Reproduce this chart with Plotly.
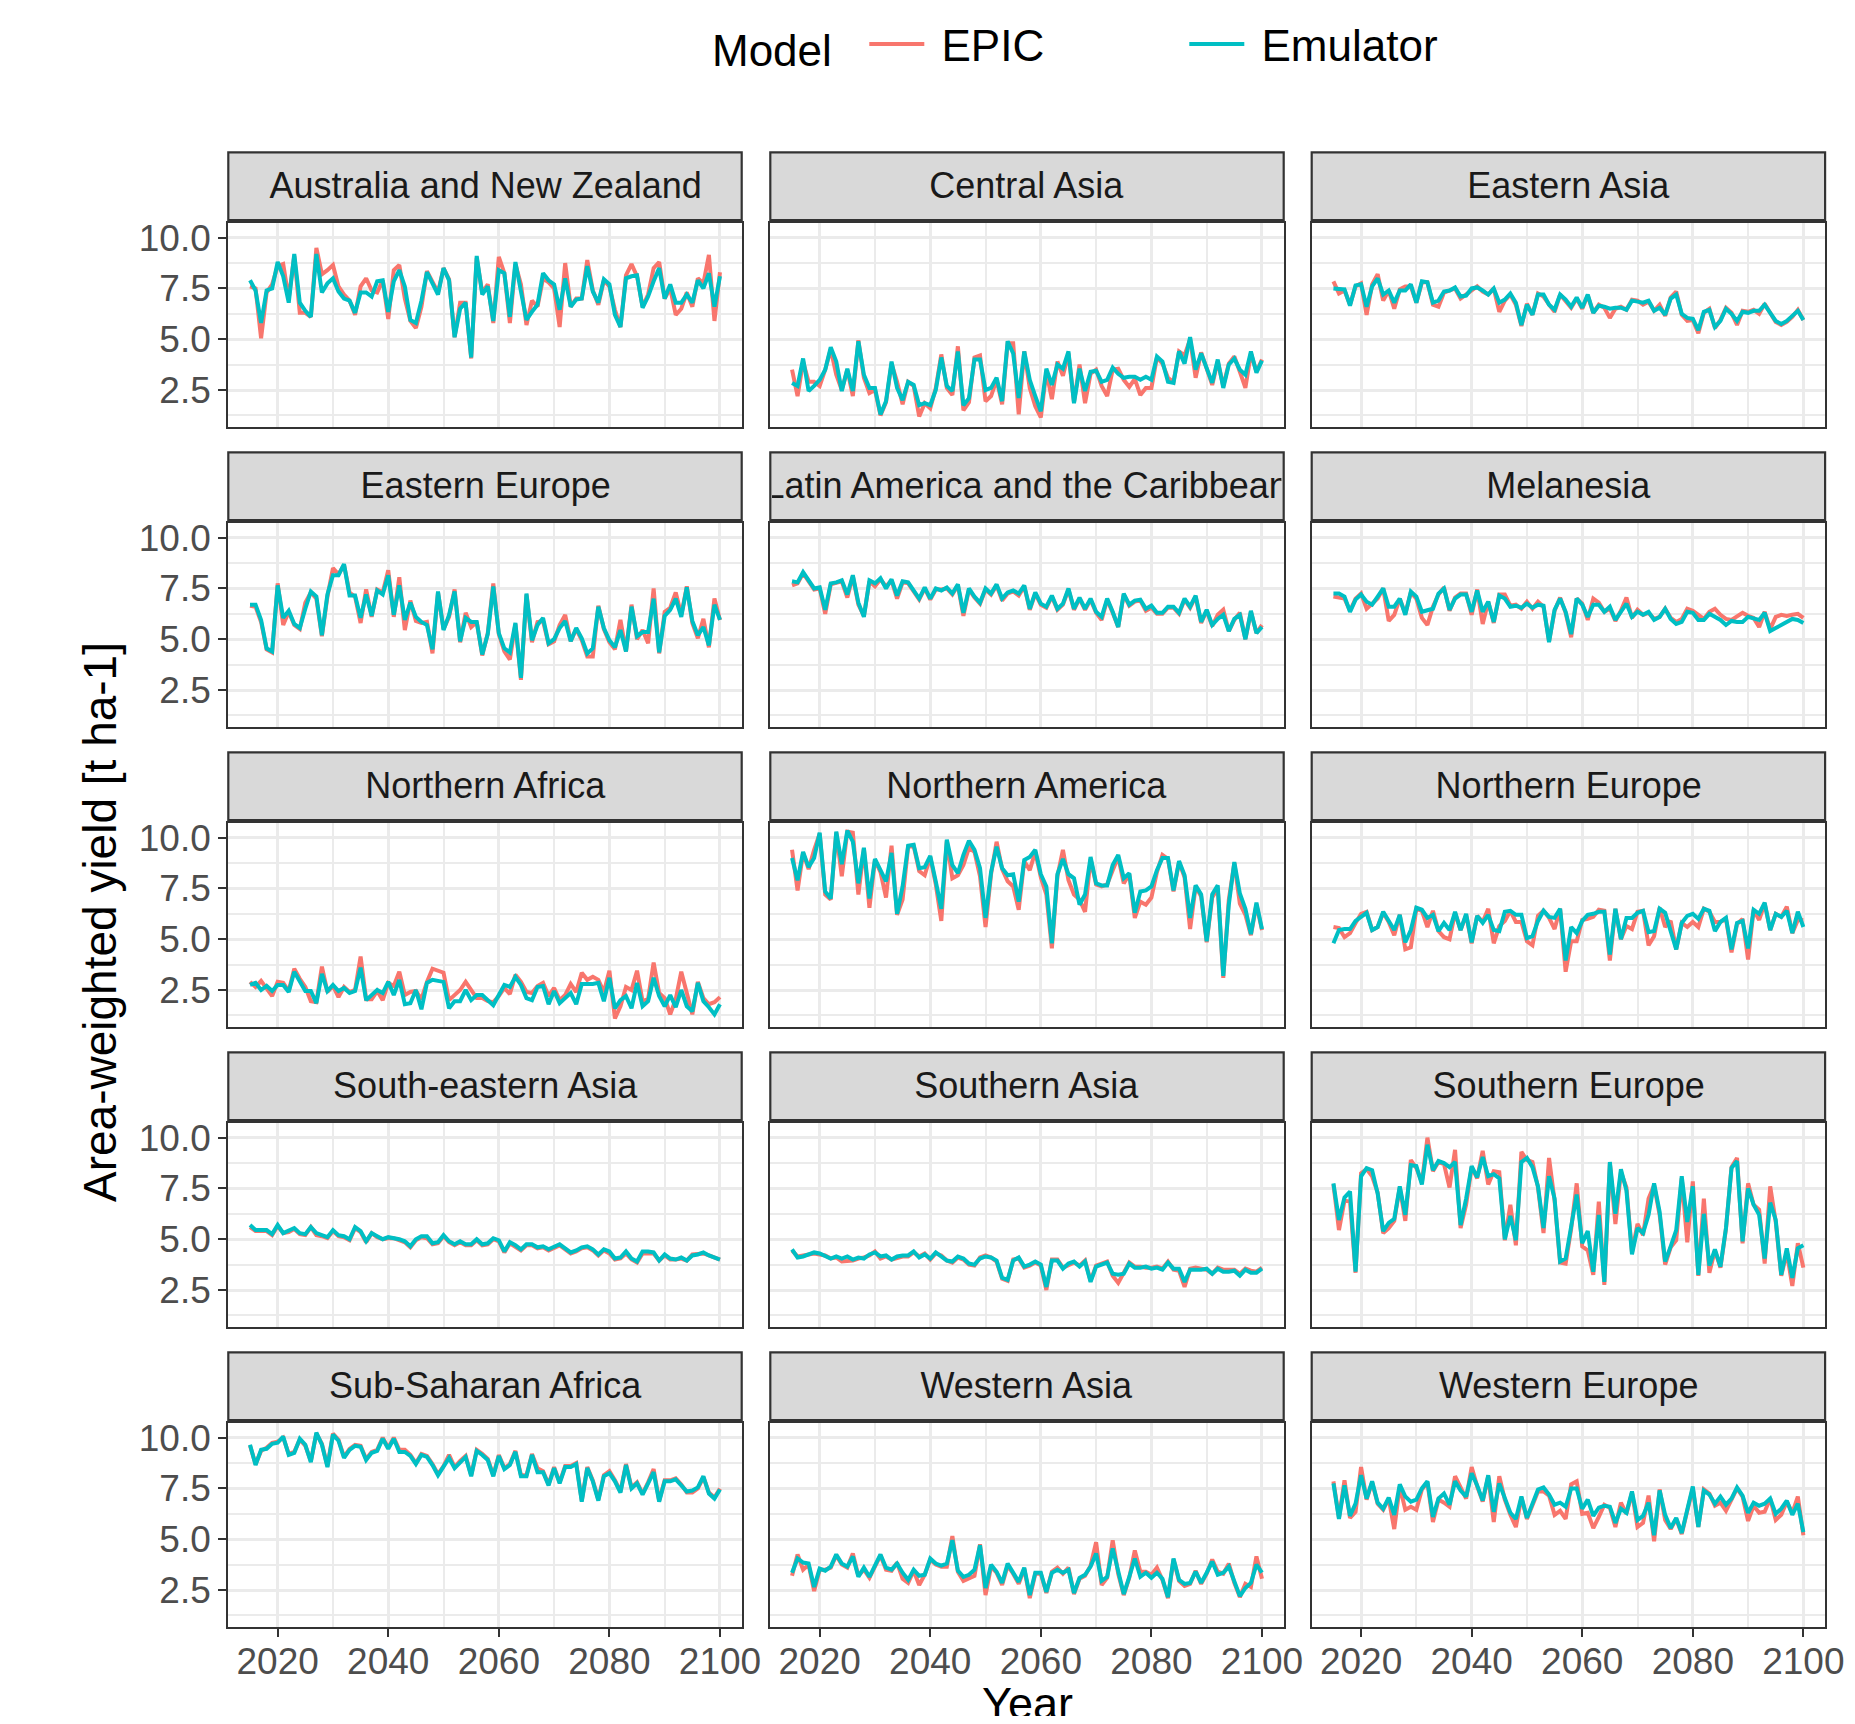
import plotly.graph_objects as go

# ---------------- data ----------------
regions = ["Australia and New Zealand", "Central Asia", "Eastern Asia",
           "Eastern Europe", "Latin America and the Caribbean", "Melanesia",
           "Northern Africa", "Northern America", "Northern Europe",
           "South-eastern Asia", "Southern Asia", "Southern Europe",
           "Sub-Saharan Africa", "Western Asia", "Western Europe"]

x_tick_vals = [2020, 2040, 2060, 2080, 2100]
x_tick_text = ["2020", "2040", "2060", "2080", "2100"]
y_tick_vals = [2.5, 5.0, 7.5, 10.0]
y_tick_text = ["2.5", "5.0", "7.5", "10.0"]

emu_aus = [7.9, 7.4, 5.8, 7.4, 7.5,
           8.8, 8.1, 6.8, 9.2, 6.8, 6.4, 6.1, 9.2, 7.3, 7.75,
           8.0, 7.35, 7.0, 6.9, 6.3, 7.3, 7.3, 7.1, 7.85, 7.9,
           6.35, 7.85, 8.4, 7.6, 5.95, 5.8, 6.9, 8.3, 7.7, 7.2,
           8.5, 7.9, 5.1, 6.5, 6.8, 4.1, 9.1, 7.2, 7.6, 5.9,
           8.4, 8.25, 6.1, 8.8, 7.35, 5.95, 6.35, 6.7, 8.25, 7.9,
           7.7, 6.45, 8.0, 6.6, 6.95, 7.0, 8.6, 7.35, 6.8, 7.95,
           7.7, 6.2, 5.6, 8.0, 8.1, 8.15, 6.55, 7.1, 7.85, 8.5,
           7.0, 7.7, 6.8, 6.8, 7.2, 6.8, 7.9, 7.5, 8.25, 6.6,
           8.1]
epic_aus = [7.6, 7.5, 5.05, 7.3, 7.7,
            8.6, 8.7, 7.0, 9.1, 6.3, 6.3, 6.1, 9.5, 8.2, 8.4,
            8.65, 7.6, 7.2, 6.9, 6.2, 7.6, 8.0, 7.4, 7.3, 7.9,
            6.0, 8.4, 8.65, 7.0, 5.9, 5.55, 6.6, 8.35, 7.85, 7.3,
            8.5, 7.95, 5.1, 6.8, 6.8, 4.05, 9.0, 7.3, 7.7, 5.8,
            9.05, 8.25, 5.8, 8.7, 7.7, 5.7, 6.9, 6.6, 8.0, 7.8,
            7.5, 5.6, 8.75, 6.6, 7.0, 7.0, 8.9, 7.4, 6.7, 7.9,
            7.6, 6.45, 5.6, 8.15, 8.7, 8.1, 6.6, 7.2, 8.5, 8.8,
            7.0, 7.5, 6.2, 6.5, 7.3, 6.6, 8.0, 7.75, 9.15, 5.9,
            8.3]

emu_casia = [2.85, 2.7, 4.05, 2.45, 2.7,
             3.0, 3.5, 4.6, 3.9, 2.45, 3.55, 2.45, 4.9, 3.25, 2.6,
             2.6, 1.3, 1.95, 3.9, 2.6, 2.0, 2.9, 2.75, 1.75, 1.85,
             1.75, 2.5, 4.1, 2.7, 2.45, 4.4, 1.75, 2.1, 4.0, 4.0,
             2.5, 2.6, 3.1, 1.95, 4.9, 4.3, 2.1, 4.4, 3.0, 2.2,
             1.45, 3.55, 2.75, 3.75, 3.55, 4.4, 1.85, 3.55, 2.45, 3.4,
             3.45, 2.9, 3.0, 3.6, 3.3, 3.1, 3.15, 3.15, 3.0, 3.15,
             3.0, 4.15, 3.9, 2.9, 2.85, 4.4, 3.8, 5.1, 3.5, 4.3,
             3.55, 2.85, 4.0, 2.6, 3.75, 4.05, 3.5, 3.25, 4.4, 3.35,
             3.95]
epic_casia = [3.5, 2.2, 3.9, 2.9, 2.9,
              2.7, 3.5, 4.5, 3.25, 2.5, 3.5, 2.2, 4.95, 3.1, 2.35,
              2.5, 1.25, 1.9, 3.8, 2.9, 1.8, 2.9, 2.7, 1.2, 1.85,
              1.6, 2.6, 4.25, 2.6, 2.25, 4.65, 1.5, 1.9, 4.1, 4.2,
              1.95, 2.2, 3.0, 1.8, 4.8, 4.8, 1.3, 4.4, 2.6, 1.7,
              1.15, 3.4, 2.05, 3.9, 3.2, 4.3, 1.9, 3.75, 1.85, 3.3,
              3.5, 2.7, 2.2, 3.5, 3.55, 3.0, 2.65, 3.05, 2.25, 2.6,
              2.6, 4.1, 3.8, 3.1, 2.9, 4.4, 4.2, 5.0, 3.1, 4.35,
              3.5, 2.75, 3.9, 2.7, 3.8, 4.15, 3.4, 2.6, 4.3, 3.4,
              4.0]

emu_easia = [7.5, 7.45, 7.45, 6.65, 7.65,
             7.7, 6.6, 7.6, 8.0, 7.2, 7.4, 6.8, 7.4, 7.4, 7.7,
             6.8, 7.85, 7.8, 6.8, 6.9, 7.35, 7.4, 7.55, 7.1, 7.15,
             7.5, 7.55, 7.4, 7.2, 7.5, 6.8, 6.95, 7.25, 6.8, 5.7,
             6.7, 6.2, 7.2, 7.2, 6.7, 6.45, 7.2, 6.95, 6.6, 7.05,
             6.55, 7.2, 6.3, 6.65, 6.6, 6.5, 6.55, 6.55, 6.45, 6.9,
             6.85, 6.8, 6.9, 6.4, 6.55, 6.2, 7.0, 7.2, 6.25, 6.05,
             6.0, 5.45, 6.35, 6.45, 5.6, 5.9, 6.5, 6.25, 5.9, 6.35,
             6.3, 6.4, 6.4, 6.7, 6.3, 5.9, 5.75, 5.9, 6.15, 6.4,
             5.95]
epic_easia = [7.85, 7.25, 7.4, 6.7, 7.6,
              7.75, 6.2, 7.7, 8.2, 6.9, 7.4, 6.5, 7.45, 7.6, 7.6,
              6.8, 7.8, 7.8, 6.7, 6.6, 7.3, 7.4, 7.5, 7.0, 7.2,
              7.45, 7.6, 7.35, 7.2, 7.5, 6.35, 6.9, 7.2, 6.7, 5.65,
              6.75, 6.2, 7.25, 7.1, 6.7, 6.35, 7.2, 6.9, 6.55, 7.0,
              6.5, 7.15, 6.3, 6.7, 6.55, 6.05, 6.5, 6.6, 6.45, 6.95,
              6.9, 6.7, 6.85, 6.4, 6.7, 6.15, 7.05, 7.35, 6.2, 5.9,
              5.95, 5.3, 6.3, 6.5, 5.55, 5.95, 6.55, 6.3, 5.7, 6.4,
              6.35, 6.45, 6.25, 6.75, 6.25, 5.85, 5.7, 5.85, 6.1, 6.45,
              5.95]

emu_eeur = [6.7, 6.7, 5.95, 4.55, 4.4,
            7.65, 6.05, 6.4, 5.75, 5.55, 6.5, 7.35, 7.1, 5.2, 7.2,
            8.15, 8.15, 8.7, 7.15, 7.15, 6.05, 7.2, 6.15, 7.4, 7.2,
            8.15, 6.2, 7.65, 5.95, 6.8, 6.1, 5.85, 5.7, 4.5, 7.35,
            5.45, 6.2, 7.35, 4.9, 6.05, 5.85, 5.85, 4.25, 5.25, 7.6,
            5.3, 4.55, 4.35, 5.8, 3.1, 7.25, 4.95, 5.7, 6.05, 4.8,
            5.0, 5.55, 5.9, 4.9, 5.55, 5.05, 4.3, 4.55, 6.6, 5.55,
            4.95, 4.6, 5.45, 4.4, 6.6, 5.15, 5.35, 5.35, 7.0, 4.35,
            6.15, 6.45, 7.0, 6.1, 7.55, 5.9, 5.2, 5.6, 4.7, 6.7,
            5.95]
epic_eeur = [6.65, 6.6, 5.85, 4.5, 4.35,
             7.75, 5.7, 6.35, 5.7, 5.5, 6.8, 7.3, 7.0, 5.15, 7.1,
             8.5, 8.2, 8.65, 7.3, 7.1, 5.8, 7.45, 6.1, 7.45, 7.3,
             8.4, 6.1, 8.05, 5.45, 6.9, 5.9, 5.8, 5.85, 4.3, 7.3,
             5.5, 6.1, 7.45, 4.85, 6.3, 5.6, 5.85, 4.2, 5.3, 7.75,
             5.25, 4.4, 4.0, 5.75, 3.0, 7.2, 4.85, 5.85, 5.9, 4.75,
             4.9, 5.7, 6.2, 4.9, 5.5, 4.95, 4.15, 4.15, 6.65, 5.5,
             4.85, 4.5, 5.95, 4.4, 6.7, 5.0, 5.45, 4.8, 7.5, 4.3,
             6.35, 6.55, 7.3, 6.2, 7.6, 5.8, 5.05, 6.0, 4.6, 7.0,
             5.95]

emu_latam = [7.85, 7.8, 8.3, 7.9, 7.5,
             7.55, 6.45, 7.75, 7.8, 7.9, 7.2, 8.15, 6.8, 6.1, 7.9,
             7.75, 8.0, 7.5, 7.95, 7.15, 7.85, 7.8, 7.4, 7.0, 7.55,
             7.0, 7.5, 7.4, 7.55, 7.25, 7.7, 6.3, 7.5, 7.1, 6.8,
             7.5, 7.25, 7.7, 7.0, 7.3, 7.4, 7.25, 7.65, 6.5, 7.3,
             6.75, 6.6, 7.15, 6.5, 6.75, 7.5, 6.5, 7.05, 6.5, 7.0,
             6.35, 6.1, 7.0, 6.35, 5.6, 7.25, 6.7, 6.9, 6.95, 6.5,
             6.65, 6.3, 6.3, 6.6, 6.6, 6.3, 7.0, 6.6, 7.15, 5.85,
             6.45, 5.7, 6.0, 6.2, 5.4, 6.0, 6.2, 5.0, 6.4, 5.3,
             5.6]
epic_latam = [7.65, 7.75, 8.25, 7.85, 7.45,
              7.5, 6.25, 7.7, 7.75, 7.85, 7.05, 8.1, 6.7, 6.15, 7.85,
              7.6, 7.95, 7.6, 7.9, 7.0, 7.8, 7.75, 7.35, 6.95, 7.5,
              6.95, 7.45, 7.45, 7.5, 7.2, 7.65, 6.15, 7.45, 7.05, 6.75,
              7.45, 7.2, 7.65, 6.9, 7.25, 7.35, 7.15, 7.6, 6.45, 7.25,
              6.7, 6.55, 7.1, 6.45, 6.7, 7.45, 6.45, 7.0, 6.45, 6.95,
              6.3, 5.95, 6.95, 6.3, 5.6, 7.2, 6.65, 6.85, 6.9, 6.4,
              6.55, 6.25, 6.25, 6.55, 6.55, 6.25, 6.95, 6.55, 7.1, 5.8,
              6.4, 5.65, 6.2, 6.45, 5.4, 5.95, 6.3, 5.0, 6.35, 5.3,
              5.7]

emu_mela = [7.25, 7.25, 7.1, 6.35, 6.95,
            7.2, 6.85, 6.7, 7.1, 7.5, 6.6, 6.6, 7.0, 6.2, 7.35,
            7.1, 6.35, 6.4, 6.5, 7.25, 7.5, 6.45, 7.0, 7.2, 7.2,
            6.35, 7.4, 6.35, 6.85, 5.85, 7.15, 7.0, 6.6, 6.65, 6.55,
            6.75, 6.55, 6.7, 6.65, 4.85, 6.45, 7.0, 6.35, 5.25, 7.0,
            6.7, 6.1, 6.7, 6.7, 6.35, 6.6, 5.95, 6.35, 6.75, 6.1,
            6.35, 6.2, 6.35, 5.95, 6.1, 6.5, 6.0, 5.75, 5.85, 6.35,
            6.3, 5.95, 5.95, 6.25, 6.1, 5.95, 5.7, 5.9, 5.85, 5.85,
            6.1, 6.0, 5.95, 6.3, 5.4, 5.55, 5.7, 5.85, 6.0, 5.95,
            5.8]
epic_mela = [7.1, 7.05, 7.0, 6.4, 7.0,
             7.25, 6.5, 6.75, 7.0, 7.5, 5.9, 6.2, 7.0, 6.25, 7.3,
             7.0, 6.05, 5.7, 6.6, 7.2, 7.55, 6.4, 7.05, 7.25, 7.25,
             6.2, 7.45, 5.75, 6.85, 5.8, 7.2, 7.2, 6.65, 6.7, 6.5,
             6.85, 6.5, 6.85, 6.6, 4.9, 6.4, 7.05, 6.3, 5.1, 7.0,
             6.75, 5.95, 7.0, 6.8, 6.35, 6.5, 5.9, 6.4, 7.05, 6.05,
             6.45, 6.2, 6.3, 6.0, 6.1, 6.5, 6.05, 5.85, 6.0, 6.5,
             6.4, 6.2, 6.0, 6.35, 6.5, 6.2, 6.0, 5.95, 6.15, 6.3,
             6.15, 6.05, 5.6, 6.35, 5.5, 6.1, 6.2, 6.15, 6.2, 6.25,
             6.05]

emu_nafr = [2.75, 2.85, 2.5, 2.7, 2.45,
            2.75, 2.75, 2.4, 3.4, 2.9, 2.45, 2.45, 1.85, 3.3, 2.45,
            2.75, 2.45, 2.6, 2.35, 2.45, 3.6, 2.0, 2.25, 2.5, 2.35,
            2.9, 2.25, 3.0, 1.8, 1.85, 2.5, 1.55, 2.85, 3.0, 2.95,
            2.9, 1.6, 1.95, 1.95, 2.5, 2.0, 2.25, 2.25, 2.0, 1.75,
            2.25, 2.75, 2.65, 3.15, 2.75, 2.1, 2.0, 2.65, 2.7, 1.8,
            2.45, 1.85, 2.1, 2.35, 1.8, 2.8, 2.8, 2.8, 2.85, 1.95,
            3.1, 1.6, 2.0, 2.2, 1.6, 2.85, 1.7, 1.95, 3.1, 2.2,
            1.7, 2.25, 1.65, 2.5, 1.7, 1.45, 2.85, 1.95, 1.65, 1.3,
            1.8]
epic_nafr = [2.9, 2.65, 2.95, 2.6, 2.2,
             2.9, 2.85, 2.45, 3.55, 3.05, 2.65, 1.95, 1.9, 3.65, 2.4,
             2.7, 2.15, 2.65, 2.4, 2.5, 4.15, 2.05, 2.05, 2.45, 2.0,
             2.85, 2.7, 3.4, 2.25, 2.4, 2.45, 2.05, 2.9, 3.55, 3.45,
             3.35, 2.0, 2.25, 2.5, 2.9, 2.5, 2.1, 2.1, 1.95, 1.9,
             2.2, 2.6, 2.3, 3.25, 2.9, 2.4, 2.35, 2.7, 2.85, 2.2,
             2.6, 2.0, 2.25, 2.8, 2.4, 3.35, 3.0, 3.15, 3.0, 2.4,
             3.45, 1.1, 1.7, 2.65, 2.5, 3.45, 1.95, 2.05, 3.85, 2.35,
             2.1, 1.3, 2.05, 3.4, 2.4, 1.3, 2.9, 2.1, 1.8, 1.9,
             2.15]

emu_namer = [9.0, 7.9, 9.3, 8.55, 9.0,
             10.25, 7.35, 7.0, 10.3, 8.7, 10.35, 9.8, 7.75, 9.5, 7.0,
             8.95, 8.4, 7.85, 9.25, 6.25, 7.6, 9.6, 9.65, 8.5, 8.55,
             9.1, 7.85, 6.5, 9.9, 8.65, 8.25, 9.15, 9.85, 9.4, 8.5,
             6.05, 8.3, 9.55, 8.5, 8.15, 8.2, 6.85, 8.9, 9.05, 9.4,
             8.2, 7.6, 4.8, 8.2, 8.95, 8.2, 8.0, 6.7, 7.2, 9.05,
             7.75, 7.65, 7.65, 8.65, 9.15, 8.0, 8.25, 6.3, 7.35, 7.4,
             7.6, 8.4, 9.0, 9.0, 7.4, 8.85, 8.15, 6.05, 7.65, 7.2,
             4.9, 7.2, 7.65, 3.2, 6.7, 8.8, 7.25, 6.5, 5.25, 6.8,
             5.5]
epic_namer = [9.4, 7.4, 9.25, 8.45, 9.4,
              10.2, 7.2, 6.95, 10.25, 8.1, 10.3, 10.25, 7.2, 9.45, 6.55,
              8.9, 8.3, 7.05, 9.6, 6.2, 6.95, 9.55, 9.6, 8.35, 8.15,
              9.05, 7.7, 5.9, 9.85, 8.0, 8.15, 8.65, 9.5, 9.3, 8.1,
              5.6, 8.2, 9.8, 8.45, 7.85, 7.6, 6.45, 8.85, 8.4, 9.3,
              8.05, 7.2, 4.55, 8.1, 9.4, 7.9, 7.2, 6.95, 6.35, 8.95,
              7.7, 7.6, 7.7, 8.4, 9.05, 7.75, 8.2, 6.05, 6.85, 6.7,
              7.05, 8.3, 9.15, 8.95, 7.35, 8.8, 8.05, 5.5, 7.6, 7.1,
              4.85, 7.05, 7.5, 3.1, 6.95, 8.75, 6.75, 6.2, 5.2, 6.7,
              5.45]

emu_neur = [4.8, 5.45, 5.5, 5.5, 5.9,
            6.1, 6.3, 5.45, 5.6, 6.35, 5.9, 5.45, 6.2, 4.85, 5.45,
            6.55, 6.45, 6.05, 6.2, 5.4, 5.8, 5.45, 6.35, 5.45, 6.25,
            4.85, 6.15, 5.8, 6.2, 5.45, 5.4, 6.35, 6.4, 6.2, 6.2,
            5.05, 5.15, 5.9, 6.4, 6.1, 6.05, 6.5, 3.95, 5.6, 5.3,
            5.9, 6.2, 6.25, 6.35, 6.35, 4.25, 6.5, 5.0, 6.05, 6.05,
            6.3, 6.4, 5.35, 5.4, 6.5, 6.3, 5.45, 4.5, 5.8, 6.15,
            6.25, 6.0, 6.5, 6.4, 5.4, 5.85, 6.05, 4.5, 5.8, 5.9,
            4.55, 6.45, 6.25, 6.8, 5.45, 6.25, 6.1, 6.4, 5.3, 6.35,
            5.6]
epic_neur = [5.6, 5.55, 5.1, 5.3, 5.8,
             6.25, 6.35, 5.45, 5.6, 6.3, 5.85, 5.2, 6.2, 4.5, 4.6,
             6.5, 6.4, 5.6, 6.4, 5.4, 5.1, 5.0, 6.3, 5.45, 6.2,
             4.8, 6.15, 5.85, 6.5, 4.8, 5.65, 5.9, 6.4, 5.85, 5.85,
             4.9, 4.7, 6.15, 6.4, 6.05, 5.5, 6.5, 3.4, 4.9, 4.9,
             5.95, 6.0, 6.1, 6.45, 6.4, 3.95, 6.5, 5.0, 5.65, 5.5,
             6.35, 6.4, 4.7, 5.15, 6.55, 5.6, 5.9, 4.5, 5.8, 5.6,
             5.85, 5.6, 6.5, 6.35, 5.85, 5.85, 6.0, 4.35, 5.75, 6.0,
             4.0, 6.45, 5.95, 6.75, 5.45, 6.25, 6.1, 6.6, 5.3, 5.95,
             5.95]

emu_seasia = [5.7, 5.45, 5.45, 5.45, 5.25,
              5.7, 5.3, 5.4, 5.55, 5.3, 5.25, 5.6, 5.3, 5.2, 5.1,
              5.45, 5.2, 5.15, 5.0, 5.6, 5.4, 4.9, 5.3, 5.15, 5.0,
              5.1, 5.05, 5.0, 4.9, 4.65, 5.0, 5.15, 5.15, 4.8, 4.85,
              5.2, 4.9, 4.75, 4.9, 4.75, 4.75, 5.0, 4.75, 4.8, 5.05,
              4.95, 4.4, 4.85, 4.7, 4.5, 4.75, 4.75, 4.6, 4.65, 4.5,
              4.65, 4.75, 4.55, 4.35, 4.45, 4.6, 4.65, 4.5, 4.25, 4.5,
              4.4, 4.05, 4.1, 4.4, 4.05, 3.9, 4.4, 4.4, 4.35, 3.95,
              4.25, 4.05, 4.0, 4.1, 3.95, 4.2, 4.25, 4.35, 4.2, 4.1,
              4.0]
epic_seasia = [5.6, 5.4, 5.4, 5.4, 5.2,
               5.65, 5.3, 5.35, 5.5, 5.25, 5.2, 5.6, 5.2, 5.15, 5.05,
               5.4, 5.15, 5.1, 4.95, 5.55, 5.35, 4.85, 5.3, 5.1, 5.0,
               5.05, 5.05, 4.95, 4.85, 4.6, 4.95, 5.1, 5.05, 4.75, 4.8,
               5.15, 4.85, 4.7, 4.85, 4.7, 4.7, 4.95, 4.7, 4.75, 5.0,
               4.9, 4.35, 4.8, 4.65, 4.45, 4.7, 4.7, 4.55, 4.6, 4.45,
               4.6, 4.7, 4.5, 4.3, 4.4, 4.55, 4.6, 4.45, 4.2, 4.45,
               4.3, 4.0, 4.05, 4.3, 4.0, 3.85, 4.3, 4.3, 4.3, 3.95,
               4.2, 4.0, 4.0, 4.05, 3.95, 4.25, 4.3, 4.3, 4.2, 4.1,
               4.0]

emu_sasia = [4.5, 4.1, 4.15, 4.25, 4.35,
             4.3, 4.15, 4.05, 4.15, 4.05, 4.15, 4.0, 4.1, 4.05, 4.25,
             4.35, 4.15, 4.2, 4.0, 4.15, 4.2, 4.2, 4.4, 4.1, 4.25,
             4.05, 4.35, 4.15, 3.95, 3.9, 4.15, 4.05, 3.8, 3.75, 4.05,
             4.15, 4.1, 3.95, 3.1, 3.0, 3.95, 4.1, 3.65, 3.75, 3.9,
             3.75, 2.65, 3.95, 3.95, 3.55, 3.8, 3.9, 3.65, 3.9, 2.9,
             3.65, 3.75, 3.85, 3.3, 3.25, 3.3, 3.8, 3.6, 3.6, 3.65,
             3.55, 3.6, 3.5, 3.85, 3.55, 3.55, 2.9, 3.5, 3.5, 3.5,
             3.55, 3.3, 3.55, 3.4, 3.4, 3.45, 3.2, 3.5, 3.35, 3.35,
             3.55]
epic_sasia = [4.45, 4.15, 4.2, 4.25, 4.3,
              4.25, 4.2, 4.05, 4.1, 3.9, 3.95, 3.95, 4.05, 4.1, 4.2,
              4.4, 4.05, 4.15, 4.0, 4.1, 4.15, 4.15, 4.35, 4.15, 4.3,
              4.0, 4.3, 4.2, 3.95, 3.85, 4.1, 4.0, 3.75, 3.7, 4.1,
              4.2, 4.1, 3.9, 3.05, 2.95, 4.0, 4.05, 3.6, 3.7, 3.85,
              3.7, 2.5, 4.0, 4.0, 3.6, 3.75, 3.85, 3.7, 3.95, 2.95,
              3.7, 3.8, 3.9, 3.2, 2.85, 3.35, 3.85, 3.65, 3.65, 3.6,
              3.6, 3.65, 3.55, 3.9, 3.5, 3.45, 2.65, 3.55, 3.6, 3.55,
              3.5, 3.3, 3.6, 3.5, 3.5, 3.5, 3.3, 3.55, 3.45, 3.4,
              3.6]

emu_seur = [7.75, 5.95, 7.05, 7.35, 3.4,
            8.1, 8.5, 8.4, 7.25, 5.4, 5.8, 6.0, 7.6, 6.2, 8.65,
            8.6, 7.7, 9.65, 8.4, 8.85, 8.75, 8.55, 8.8, 5.7, 7.0,
            8.6, 8.05, 9.05, 8.1, 8.2, 8.0, 5.0, 6.15, 4.95, 8.8,
            9.0, 8.55, 7.6, 5.55, 8.1, 7.0, 3.9, 4.05, 5.55, 7.2,
            4.8, 5.4, 3.4, 6.2, 2.9, 8.8, 6.25, 8.45, 7.4, 4.25,
            5.55, 5.3, 6.2, 7.75, 6.35, 3.9, 4.65, 5.45, 8.1, 5.85,
            7.6, 3.25, 6.25, 3.7, 4.5, 3.65, 5.55, 8.5, 8.85, 4.9,
            7.5, 6.7, 6.2, 4.05, 6.8, 5.95, 3.25, 4.55, 3.1, 4.55,
            4.7]
epic_seur = [7.7, 5.45, 6.9, 6.85, 3.35,
             8.25, 8.45, 8.1, 7.3, 5.3, 5.55, 5.9, 7.55, 5.9, 8.9,
             8.5, 7.8, 10.0, 8.35, 8.8, 8.7, 7.55, 9.4, 5.55, 6.7,
             8.55, 8.0, 9.35, 7.7, 8.35, 8.3, 4.95, 6.7, 4.7, 9.3,
             8.9, 8.8, 7.55, 5.3, 9.0, 6.9, 3.85, 3.8, 5.5, 7.75,
             4.65, 4.45, 3.25, 6.85, 2.75, 8.75, 5.75, 8.3, 7.55, 4.35,
             5.75, 5.2, 7.0, 7.65, 6.2, 3.75, 4.6, 4.95, 8.0, 4.85,
             7.85, 3.2, 7.0, 3.35, 4.45, 3.6, 5.5, 8.55, 9.0, 4.8,
             7.75, 6.7, 6.45, 3.8, 7.6, 5.85, 3.2, 4.35, 2.7, 4.8,
             3.6]

emu_ssafr = [9.65, 8.65, 9.4, 9.45, 9.7,
             9.75, 10.05, 9.15, 9.25, 9.95, 9.65, 8.8, 10.25, 9.65, 8.55,
             10.15, 9.85, 9.0, 9.4, 9.6, 9.55, 8.9, 9.25, 9.35, 9.95,
             9.45, 9.95, 9.3, 9.3, 9.1, 8.7, 9.15, 9.05, 8.65, 8.15,
             8.55, 9.0, 8.5, 8.8, 9.05, 8.1, 9.35, 9.15, 8.9, 8.1,
             9.1, 8.45, 8.65, 9.3, 8.1, 8.1, 9.15, 8.3, 8.3, 7.65,
             8.5, 7.75, 8.55, 8.55, 8.7, 6.85, 8.5, 7.85, 6.9, 8.1,
             8.25, 7.85, 7.3, 8.65, 7.5, 7.75, 7.2, 7.75, 8.3, 6.85,
             7.85, 7.85, 7.95, 7.65, 7.35, 7.4, 7.55, 8.1, 7.25, 7.0,
             7.45]
epic_ssafr = [9.6, 8.7, 9.35, 9.5, 9.75,
              9.8, 10.0, 9.2, 9.3, 9.9, 9.6, 8.85, 10.2, 9.7, 8.6,
              10.2, 9.9, 9.05, 9.45, 9.65, 9.6, 8.95, 9.3, 9.4, 10.0,
              9.5, 10.0, 9.4, 9.4, 9.15, 8.75, 9.2, 9.1, 8.7, 8.2,
              8.6, 9.15, 8.55, 8.85, 9.1, 8.15, 9.4, 9.2, 8.95, 8.15,
              9.15, 8.5, 8.7, 9.35, 8.15, 8.15, 9.2, 8.5, 8.35, 7.7,
              8.55, 7.8, 8.6, 8.6, 8.75, 6.9, 8.55, 7.9, 6.95, 8.15,
              8.35, 7.9, 7.35, 8.7, 7.55, 7.8, 7.25, 7.8, 8.45, 6.9,
              7.9, 7.9, 8.0, 7.7, 7.3, 7.3, 7.5, 8.05, 7.3, 7.05,
              7.5]

emu_wasia = [3.35, 4.05, 3.85, 3.8, 2.65,
             3.55, 3.45, 3.65, 4.25, 3.8, 3.65, 4.15, 3.15, 3.6, 3.15,
             3.75, 4.25, 3.6, 3.5, 3.8, 3.35, 3.0, 3.5, 3.2, 3.25,
             4.05, 3.8, 3.7, 3.8, 4.95, 3.45, 3.15, 3.25, 3.5, 4.7,
             2.6, 3.75, 3.4, 2.85, 3.8, 3.35, 2.9, 3.6, 2.25, 3.35,
             3.35, 2.4, 3.35, 3.5, 3.35, 3.5, 2.35, 3.1, 3.25, 3.65,
             4.3, 2.95, 3.15, 4.55, 3.35, 2.3, 3.15, 4.05, 3.15, 3.35,
             3.1, 3.35, 3.05, 2.15, 4.05, 3.0, 2.8, 2.85, 3.4, 2.85,
             3.35, 3.9, 3.25, 3.35, 3.65, 2.9, 2.2, 2.6, 2.85, 3.75,
             3.35]
epic_wasia = [3.2, 4.25, 3.5, 3.75, 2.45,
              3.5, 3.5, 3.6, 4.2, 3.75, 3.6, 4.3, 3.2, 3.5, 3.1,
              3.7, 4.2, 3.5, 3.45, 3.85, 3.05, 2.85, 3.45, 2.75, 3.25,
              4.0, 3.75, 3.65, 3.65, 5.15, 3.4, 2.95, 3.05, 3.2, 4.75,
              2.25, 3.65, 3.35, 2.75, 3.7, 3.3, 2.8, 3.55, 2.1, 3.3,
              3.3, 2.35, 3.4, 3.6, 3.3, 3.6, 2.3, 3.05, 3.2, 3.7,
              4.85, 2.75, 3.1, 4.95, 3.3, 2.25, 3.1, 4.45, 3.4, 3.4,
              3.25, 3.6, 3.0, 2.1, 4.0, 2.95, 2.7, 2.8, 3.45, 2.8,
              3.3, 4.0, 3.4, 3.3, 3.8, 2.85, 2.15, 2.8, 2.65, 4.15,
              3.05]

emu_weur = [7.75, 6.0, 7.65, 6.15, 6.75,
            8.15, 7.0, 7.85, 6.8, 6.5, 7.05, 6.2, 7.7, 7.1, 6.85,
            6.95, 7.5, 7.85, 6.1, 7.0, 7.25, 6.7, 7.85, 7.4, 7.1,
            8.25, 7.65, 6.9, 8.15, 6.35, 7.75, 7.0, 6.3, 6.0, 7.1,
            6.05, 6.7, 7.45, 7.55, 7.2, 6.7, 6.8, 6.6, 7.5, 7.5,
            6.5, 6.95, 6.15, 6.55, 6.65, 6.6, 5.8, 6.5, 6.3, 7.35,
            5.95, 6.15, 6.8, 5.2, 7.4, 6.2, 5.55, 6.05, 5.3, 6.45,
            7.6, 5.6, 7.4, 7.2, 6.75, 7.1, 6.7, 7.0, 7.55, 7.15,
            6.3, 6.8, 6.65, 6.75, 7.0, 6.25, 6.5, 6.9, 6.2, 6.75,
            5.35]
epic_weur = [7.85, 6.05, 7.9, 6.05, 6.35,
             8.55, 6.95, 7.8, 6.75, 6.45, 7.0, 5.5, 7.6, 6.45, 6.6,
             6.45, 7.45, 7.8, 5.85, 6.95, 6.8, 6.6, 8.1, 7.5, 7.0,
             8.55, 7.6, 6.85, 8.1, 5.85, 8.1, 6.95, 6.2, 5.6, 7.05,
             6.0, 6.65, 7.35, 7.35, 7.15, 6.2, 6.4, 6.0, 7.7, 7.85,
             6.25, 6.3, 5.55, 6.1, 6.7, 6.55, 5.6, 6.8, 6.25, 7.3,
             5.6, 5.8, 7.15, 4.9, 7.45, 5.95, 5.5, 6.0, 5.25, 6.4,
             7.5, 5.6, 7.45, 7.25, 6.65, 6.8, 6.4, 6.95, 7.5, 7.1,
             5.9, 6.65, 6.3, 6.35, 7.0, 5.95, 6.2, 6.85, 6.3, 7.1,
             5.2]

epic_series = [epic_aus, epic_casia, epic_easia, epic_eeur, epic_latam, epic_mela,
               epic_nafr, epic_namer, epic_neur, epic_seasia, epic_sasia, epic_seur,
               epic_ssafr, epic_wasia, epic_weur]
emu_series = [emu_aus, emu_casia, emu_easia, emu_eeur, emu_latam, emu_mela,
              emu_nafr, emu_namer, emu_neur, emu_seasia, emu_sasia, emu_seur,
              emu_ssafr, emu_wasia, emu_weur]

# ---------------- layout (pixel geometry, figure coordinates) ----------------
# the page has an 8px body margin, so the figure is 16px smaller than the window
W, H = 1839, 1708
MT = 6  # small top margin so the legend can sit at the very top without pushing margins
OFF = 8.0
col_left = [228.3 - OFF, 770.3 - OFF, 1311.7 - OFF]
panel_w = 513.4
row_top = [223.3 - OFF, 523.3 - OFF, 823.3 - OFF, 1123.3 - OFF, 1423.3 - OFF]
panel_h = 203.4
strip_top_gap = 71.0
strip_bot_gap = 3.3
X_RANGE = [2011.07, 2103.93]
Y_RANGE = [0.693, 10.707]


def px_x(px):
    return px / W


def px_y(py):
    return 1 - (py - MT) / (H - MT)


FONT = "Liberation Sans, Arial, Helvetica, sans-serif"
RED = "#F8766D"
CYAN = "#00BFC4"
GRID = "#EBEBEB"
BORDER = "#333333"
TICKCOL = "#4D4D4D"
NB = "\u00a0"

fig = go.Figure()
layout = {}
shapes = []
annotations = []

for i, name in enumerate(regions):
    r, c = divmod(i, 3)
    k = i + 1
    xs = "x" if k == 1 else f"x{k}"
    ys = "y" if k == 1 else f"y{k}"
    epic = epic_series[i]
    emu = emu_series[i]
    fig.add_trace(go.Scatter(x=list(range(2015, 2015 + len(epic))), y=epic, mode="lines",
                             line=dict(color=RED, width=4), name=NB + "EPIC", legendgroup="EPIC",
                             showlegend=(i == 0), xaxis=xs, yaxis=ys, hoverinfo="skip"))
    fig.add_trace(go.Scatter(x=list(range(2015, 2015 + len(emu))), y=emu, mode="lines",
                             line=dict(color=CYAN, width=4), name=NB + "Emulator", legendgroup="Emulator",
                             showlegend=(i == 0), xaxis=xs, yaxis=ys, hoverinfo="skip"))

    x0 = col_left[c]
    x1 = x0 + panel_w
    y_top = row_top[r]
    y_bot = y_top + panel_h
    bottom_row = (r == 4)
    left_col = (c == 0)

    layout["xaxis" if k == 1 else f"xaxis{k}"] = dict(
        domain=[px_x(x0), px_x(x1)], anchor=ys, range=X_RANGE, automargin=False,
        tickmode="array", tickvals=x_tick_vals, ticktext=x_tick_text,
        showticklabels=bottom_row, ticks="outside" if bottom_row else "",
        ticklen=8, tickwidth=2, tickcolor=BORDER, ticklabelstandoff=-7,
        tickfont=dict(family=FONT, size=37, color=TICKCOL),
        showgrid=True, gridcolor=GRID, gridwidth=3,
        minor=dict(tickmode="array", tickvals=[2030, 2050, 2070, 2090],
                   showgrid=True, gridcolor=GRID, gridwidth=1.7, ticks=""),
        showline=True, mirror=True, linecolor=BORDER, linewidth=2.2,
        zeroline=False, fixedrange=True)
    layout["yaxis" if k == 1 else f"yaxis{k}"] = dict(
        domain=[px_y(y_bot), px_y(y_top)], anchor=xs, range=Y_RANGE, automargin=False,
        tickmode="array", tickvals=y_tick_vals, ticktext=y_tick_text,
        showticklabels=left_col, ticks="outside" if left_col else "",
        ticklen=8, tickwidth=2, tickcolor=BORDER,
        tickfont=dict(family=FONT, size=37, color=TICKCOL),
        showgrid=True, gridcolor=GRID, gridwidth=3,
        minor=dict(tickmode="array", tickvals=[1.25, 3.75, 6.25, 8.75],
                   showgrid=True, gridcolor=GRID, gridwidth=1.7, ticks=""),
        showline=True, mirror=True, linecolor=BORDER, linewidth=2.2,
        zeroline=False, fixedrange=True)

    # facet strip
    s_top = y_top - strip_top_gap
    s_bot = y_top - strip_bot_gap
    shapes.append(dict(type="rect", xref="paper", yref="paper",
                       x0=px_x(x0), x1=px_x(x1), y0=px_y(s_bot), y1=px_y(s_top),
                       fillcolor="#D9D9D9", line=dict(color=BORDER, width=2.2), layer="above"))
    annotations.append(dict(text=name, xref="paper", yref="paper",
                            x=px_x((x0 + x1) / 2), y=px_y((s_top + s_bot) / 2 - 1),
                            xanchor="center", yanchor="middle", showarrow=False,
                            width=panel_w - 4, align="center",
                            font=dict(family=FONT, size=36, color="#1A1A1A")))

# axis titles
annotations.append(dict(text="Year", xref="paper", yref="paper", x=px_x(1019), y=px_y(1668),
                        xanchor="center", yanchor="top", showarrow=False,
                        font=dict(family=FONT, size=45, color="black")))
annotations.append(dict(text="Area-weighted yield [t ha-1]", xref="paper", yref="paper",
                        x=px_x(92), y=px_y(914), xanchor="center", yanchor="middle",
                        textangle=-90, showarrow=False,
                        font=dict(family=FONT, size=46, color="black")))

fig.update_layout(
    width=W, height=H,
    margin=dict(l=0, r=0, t=MT, b=0, autoexpand=False),
    paper_bgcolor="white", plot_bgcolor="white",
    font=dict(family=FONT, color="black"),
    showlegend=True,
    legend=dict(orientation="h", x=px_x(702), xanchor="left", y=px_y(1), yanchor="top",
                title=dict(text="Model" + NB * 2, side="left", font=dict(family=FONT, size=44, color="black")),
                font=dict(family=FONT, size=44, color="black"),
                itemwidth=55, entrywidth=250, bgcolor="rgba(0,0,0,0)",
                traceorder="normal"),
    shapes=shapes, annotations=annotations,
    **layout)

fig.write_html("out.html", include_plotlyjs=True, full_html=True)
